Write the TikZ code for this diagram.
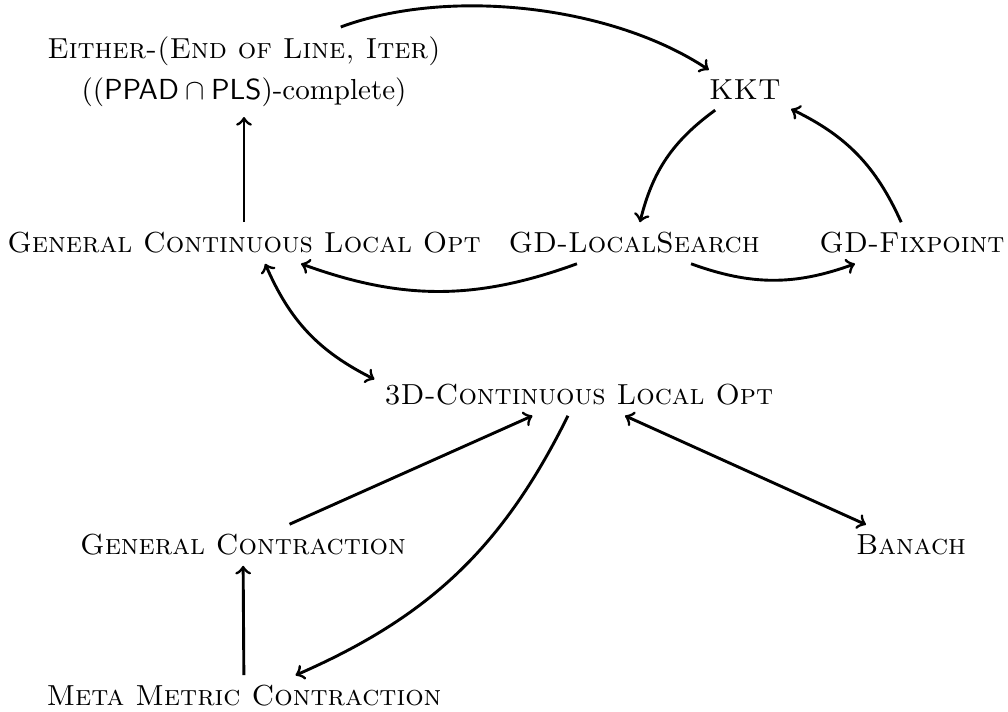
\documentclass[tikz,border=0pt]{standalone}
\usetikzlibrary{calc}
\begin{document}
\begin{tikzpicture}[x=0.345pt,y=-0.345pt,
  lbl/.style={font=\normalsize},
  conn/.style={line width=1pt,->},
  biconn/.style={line width=1pt,<->}]
\useasboundingbox (0,0) rectangle (1008,711);
\node[lbl,align=center] (either) at (244,72) {\textsc{Either-(End of Line, Iter)}\\[2pt]($(\mathsf{PPAD}\cap\mathsf{PLS})$-complete)};
\node[lbl] (kkt) at (745,90) {\textsc{KKT}};
\node[lbl] (gclo) at (244,243) {\textsc{General Continuous Local Opt}};
\node[lbl] (gdls) at (634,243) {\textsc{GD-LocalSearch}};
\node[lbl] (gdf) at (912,243) {\textsc{GD-Fixpoint}};
\node[lbl] (tdclo) at (579,395) {\textsc{3D-Continuous Local Opt}};
\node[lbl] (gc) at (243,545) {\textsc{General Contraction}};
\node[lbl] (banach) at (911,545) {\textsc{Banach}};
\node[lbl] (meta) at (244,696) {\textsc{Meta Metric Contraction}};

\draw[conn] (either) to[bend left=27, looseness=0.8] (kkt);
\draw[conn] (gclo) -- (either);
\draw[conn] (kkt) to[bend right=20] (gdls);
\draw[conn] (gdf) to[bend right=20] (kkt);
\draw[conn] (gdls) to[bend left=20] (gclo);
\draw[conn] (gdls) to[bend right=20] (gdf);
\draw[biconn] (gclo) to[bend right=20] (tdclo);
\draw[conn] (gc) -- (tdclo);
\draw[biconn] (tdclo) -- (banach);
\draw[conn] (tdclo) to[bend left=20] (meta);
\draw[conn] (meta) -- (gc);
\end{tikzpicture}
\end{document}
